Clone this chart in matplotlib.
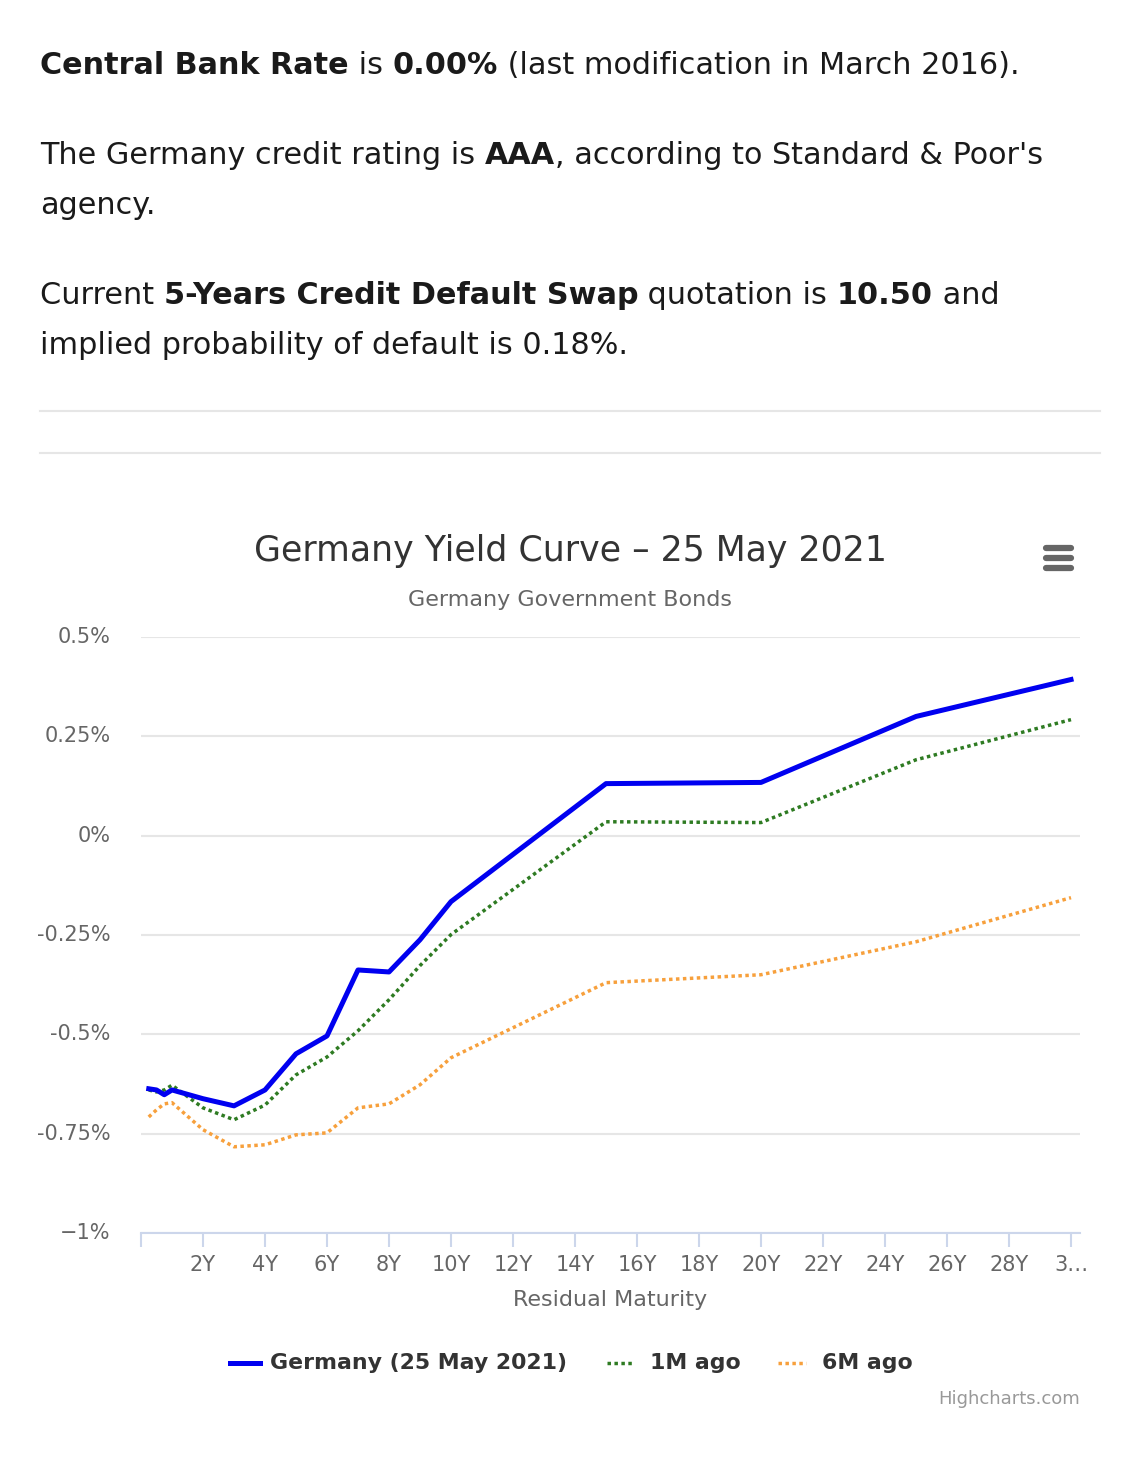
import numpy as np
import matplotlib
matplotlib.use('Agg')
import matplotlib.pyplot as plt
from matplotlib.lines import Line2D

W, H = 1148, 1472

# maturities in years
maturity = [0.25, 0.5, 0.75, 1, 2, 3, 4, 5, 6, 7, 8, 9, 10, 15, 20, 25, 30]
germany = [-0.637, -0.640, -0.652, -0.640, -0.662, -0.680, -0.640, -0.549, -0.504,
           -0.338, -0.343, -0.262, -0.166, 0.131, 0.134, 0.300, 0.393]
ago_1m = [-0.640, -0.645, -0.640, -0.628, -0.685, -0.715, -0.678, -0.602, -0.557,
          -0.491, -0.413, -0.327, -0.249, 0.035, 0.033, 0.191, 0.292]
ago_6m = [-0.708, -0.690, -0.675, -0.672, -0.740, -0.783, -0.778, -0.753, -0.748,
          -0.685, -0.675, -0.627, -0.559, -0.370, -0.350, -0.267, -0.156]

xticks = [2, 4, 6, 8, 10, 12, 14, 16, 18, 20, 22, 24, 26, 28, 30]
xlabels = ['2Y', '4Y', '6Y', '8Y', '10Y', '12Y', '14Y', '16Y', '18Y', '20Y',
           '22Y', '24Y', '26Y', '28Y', '3…']
yticks = [0.5, 0.25, 0, -0.25, -0.5, -0.75, -1]
ylabels = ['0.5%', '0.25%', '0%', '-0.25%', '-0.5%', '-0.75%', '−1%']

paragraphs = [
    (65, [('Central Bank Rate', True), (' is ', False), ('0.00%', True),
          (' (last modification in March 2016).', False)]),
    (155, [('The Germany credit rating is ', False), ('AAA', True),
           (", according to Standard & Poor's", False)]),
    (205, [('agency.', False)]),
    (295, [('Current ', False), ('5-Years Credit Default Swap', True),
           (' quotation is ', False), ('10.50', True), (' and', False)]),
    (345, [('implied probability of default is 0.18%.', False)]),
]

fig = plt.figure(figsize=(W / 100, H / 100), dpi=100)
fig.patch.set_facecolor('white')
renderer = fig.canvas.get_renderer()


def text_width(s, **kw):
    # measure with bars around so leading/trailing spaces count
    t1 = fig.text(0, 0, '|' + s + '|', **kw)
    t2 = fig.text(0, 0, '||', **kw)
    w = t1.get_window_extent(renderer).width - t2.get_window_extent(renderer).width
    t1.remove()
    t2.remove()
    return w


for ypix, parts in paragraphs:
    x = 40
    for s, bold in parts:
        kw = dict(fontsize=21.8, color='#1a1a1a', weight='bold' if bold else 'normal')
        fig.text(x / W, 1 - ypix / H, s, va='center', ha='left', **kw)
        x += text_width(s, **kw)

# separators
for ypix in [411, 453]:
    fig.add_artist(Line2D([40 / W, 1100 / W], [1 - ypix / H] * 2, color='#e6e6e6', lw=1.5))

# titles
fig.text(570 / W, 1 - 551 / H, 'Germany Yield Curve – 25 May 2021', ha='center', va='center',
         fontsize=25, color='#333333')
fig.text(570 / W, 1 - 600 / H, 'Germany Government Bonds', ha='center', va='center',
         fontsize=16, color='#666666')

# hamburger menu
for ypix in [548, 558, 568]:
    fig.add_artist(Line2D([1046 / W, 1071 / W], [1 - ypix / H] * 2, color='#666666',
                          lw=4.5, solid_capstyle='round'))

ax = fig.add_axes([141 / W, 1 - 1233 / H, (1080 - 141) / W, (1233 - 637) / H])
ax.plot(maturity, germany, color='#0000f0', lw=3.6, solid_joinstyle='round', zorder=3)
ax.plot(maturity, ago_1m, color='#2e7b22', lw=2.5, linestyle=(0, (1, 1.0)), zorder=2)
ax.plot(maturity, ago_6m, color='#f7a03c', lw=2.5, linestyle=(0, (1, 1.0)), zorder=2)

ax.set_xlim(0, 30.29)
ax.set_ylim(-1, 0.5)
ax.set_yticks(yticks)
ax.set_yticklabels(ylabels)
ax.set_xticks([0] + xticks)
ax.set_xticklabels([''] + xlabels)
ax.grid(axis='y', color='#e6e6e6', lw=1.5)
ax.set_axisbelow(True)
for side in ['top', 'right', 'left']:
    ax.spines[side].set_visible(False)
ax.spines['bottom'].set_color('#ccd6eb')
ax.spines['bottom'].set_linewidth(1.5)
ax.tick_params(axis='x', length=10, width=1.5, color='#ccd6eb', labelsize=15,
               labelcolor='#666666', pad=6)
ax.tick_params(axis='y', length=0, labelsize=15, labelcolor='#666666', pad=22)
for lab in ax.get_yticklabels():
    lab.set_verticalalignment('center')
    lab.set_y(lab.get_position()[1])

fig.text(610 / W, 1 - 1300 / H, 'Residual Maturity', ha='center', va='center',
         fontsize=16, color='#666666')

# legend
fig.add_artist(Line2D([230 / W, 260 / W], [1 - 1363 / H] * 2, color='#0000f0', lw=3.6))
fig.text(270 / W, 1 - 1363 / H, 'Germany (25 May 2021)', ha='left', va='center',
         fontsize=15.8, weight='bold', color='#333333')
fig.add_artist(Line2D([607 / W, 634 / W], [1 - 1363 / H] * 2, color='#2e7b22', lw=2.5,
                      linestyle=(0, (1, 1.0))))
fig.text(650 / W, 1 - 1363 / H, '1M ago', ha='left', va='center',
         fontsize=15.8, weight='bold', color='#333333')
fig.add_artist(Line2D([778 / W, 806 / W], [1 - 1363 / H] * 2, color='#f7a03c', lw=2.5,
                      linestyle=(0, (1, 1.0))))
fig.text(822 / W, 1 - 1363 / H, '6M ago', ha='left', va='center',
         fontsize=15.8, weight='bold', color='#333333')

fig.text(1080 / W, 1 - 1399 / H, 'Highcharts.com', ha='right', va='center',
         fontsize=13, color='#999999')

fig.savefig('out.png', dpi=100, facecolor='white')
